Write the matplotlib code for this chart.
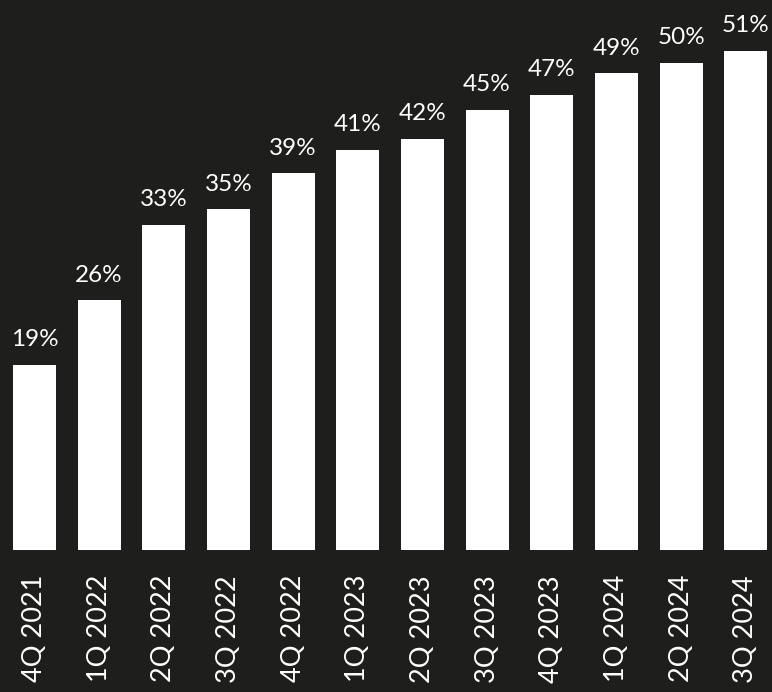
import matplotlib
matplotlib.use("Agg")
import matplotlib.pyplot as plt

categories = ["4Q 2021", "1Q 2022", "2Q 2022", "3Q 2022", "4Q 2022", "1Q 2023",
              "2Q 2023", "3Q 2023", "4Q 2023", "1Q 2024", "2Q 2024", "3Q 2024"]
values = [18.9, 25.5, 33.2, 34.8, 38.5, 40.9, 42.0, 45.0, 46.5, 48.7, 49.8, 51.0]
value_labels = ["19%", "26%", "33%", "35%", "39%", "41%", "42%", "45%", "47%", "49%", "50%", "51%"]

bg = "#1e1e1c"
plt.rcParams['font.family'] = ['Lato', 'DejaVu Sans']

fig = plt.figure(figsize=(7.72, 6.92), dpi=100, facecolor=bg)
ax = fig.add_axes([0, 142/692, 1, 550/692], facecolor=bg)

x = list(range(len(categories)))
ax.bar(x, values, width=0.665, color="white", edgecolor="none")

for xi, v, lab in zip(x, values, value_labels):
    ax.annotate(lab, (xi, v), xytext=(0, 13.5), textcoords="offset points",
                ha="center", va="baseline", color="white", fontsize=17.5)

ax.set_xlim(-0.534, 11.407)
ax.set_ylim(0, 56.21)
ax.set_xticks(x)
ax.set_xticklabels(categories, rotation=90, color="white", fontsize=19.5)
ax.tick_params(axis="x", length=0, pad=18)
ax.set_yticks([])
for s in ax.spines.values():
    s.set_visible(False)

fig.savefig("out.png", dpi=100, facecolor=bg)
